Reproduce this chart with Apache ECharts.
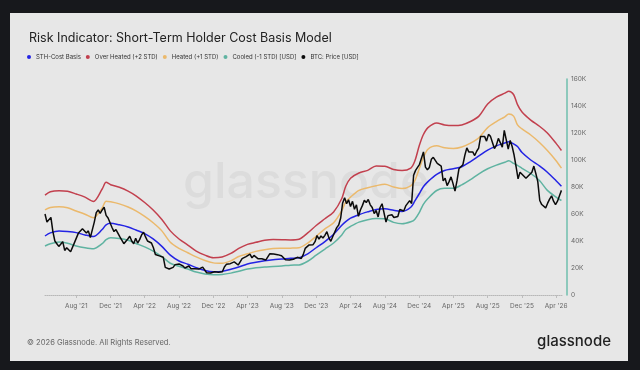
<!DOCTYPE html>
<html><head><meta charset="utf-8">
<script src="https://cdn.jsdelivr.net/npm/echarts@6/dist/echarts.min.js"></script>
<style>
html,body{margin:0;padding:0;background:#17181c;}
#card{position:absolute;left:10px;top:13px;width:618px;height:348px;background:#e7e7e7;}
#c{position:absolute;left:0;top:0;width:640px;height:370px;}
</style>
</head><body><div id="card"></div><div id="c"></div>
<script>
// ---- data (values in thousands of USD) ----
const bandDates = ['2021-04-12','2021-05-01','2021-06-01','2021-07-01','2021-08-01','2021-09-01','2021-10-01','2021-11-01','2021-11-15','2021-12-01',
'2022-01-01','2022-02-01','2022-03-01','2022-04-01','2022-05-01','2022-06-01','2022-07-01','2022-08-01','2022-09-01','2022-10-01','2022-11-01','2022-12-01',
'2023-01-01','2023-02-01','2023-03-01','2023-04-01','2023-05-01','2023-06-01','2023-07-01','2023-08-01','2023-09-01','2023-10-01','2023-11-01','2023-12-01',
'2024-01-01','2024-02-01','2024-03-01','2024-03-15','2024-04-01','2024-05-01','2024-06-01','2024-07-01','2024-08-01','2024-09-01','2024-10-01','2024-11-01','2024-11-15','2024-12-01','2024-12-15',
'2025-01-01','2025-02-01','2025-03-01','2025-04-01','2025-05-01','2025-06-01','2025-07-01','2025-08-01','2025-09-01','2025-10-01','2025-10-15','2025-11-01','2025-11-15','2025-12-01',
'2026-01-01','2026-02-01','2026-03-01','2026-04-01','2026-04-20'];
const sthCost = [43.7,46,47.4,47,46.2,44.5,43.3,48.5,52,53.1,
52,50.4,48.1,45.5,41.5,36,29.5,25.2,22.8,20.3,18.2,17.3,
17.5,19,20.7,22.9,24.2,25.3,26.1,26.6,27.2,27.6,30.5,35,
39.6,45,51.6,54.3,56.9,59.5,61.6,63.4,63.8,62.8,61.9,65,69.5,75,80,
84,89.4,92.2,93.5,95,98.8,103,107.3,110.5,112.6,113.6,112,110,105.5,
100,95.6,90.9,84.6,80.5];
const overHeated = [74,76.5,77.3,76.8,74.8,72.5,69.3,78.5,83.5,81.7,
79.8,77,73.5,68.5,63,56,47.5,41.5,37,32.5,29.5,27.6,
28.2,30.8,34.5,37.5,39,40.5,41.1,41,40.8,41.3,46,51.5,
56.5,61.5,71.5,80.5,86.5,90.4,92.3,95.5,95.3,93,92.2,94,99,110.5,118.5,
124,127.5,126,125.5,126,128.5,132.5,141.5,146.5,149.5,151,148.5,141,135.5,
129.5,125,120,112.3,107];
const heated = [63,64.8,65.3,64.6,62.2,59.8,57.2,64.5,69.5,69,
67.5,65.2,62.3,58.2,53.5,47.5,39,34.5,31.3,28.2,25.5,23.8,
23.5,25.3,28.5,30.5,32.3,33.6,34.4,34.6,34.7,35,38.5,43.5,
49,53.5,62.5,69,72.5,77.5,79.5,81,82,80,78.8,80.8,84.5,93.5,101.5,
108,110.5,109,108.5,109.6,112.5,116.5,124,128.5,132,134,132.5,126,123,
118.5,113,107,99.5,94];
const cooled = [36.3,38,39.2,38.3,36.3,35,34.3,38,41,42.4,
41.8,40.5,38.2,35.6,32.5,28.5,23.5,21.3,19.2,17,15.6,15,
15.2,16.2,17.6,19.2,20.2,20.8,21.1,21.5,22.1,22.3,25,29.5,
34,38.5,44.5,48.5,50.8,54,55.8,56.6,56.4,53.8,52.8,54.3,56,61,67,
71.5,77.4,79,79,81.6,85.5,89.8,93.5,96.2,98.3,99.5,97.5,96,93.8,
90,84.8,77.5,72.5,70];
// BTC weekly price, first week starting 2021-04-12
const priceStart = '2021-04-12';
const btcPrice = [
60,54,55,57.5,47,40,38,36,36.5,39.5,33,35,34,32,31,39,39.5,46,46.5,49,50,46,47.5,42.5,43,54,61,63,60.5,63,65,59,57,57,50,47,48.5,48,
43,42.5,38,37,41.5,43.5,40,38,42,38.5,41,44.5,46.5,43,40,41,38.5,35,30,29.5,29,30,28,20.5,21,19.3,20.5,20.5,22.5,23.5,23,24.3,21.5,20,19.8,21.5,19.5,19,19.5,19.5,19.2,19.4,20.7,21,16.5,16.5,16.3,17,17.2,16.8,16.8,16.6,
17.2,20.8,22.7,23,23.2,21.8,24.5,23.2,22.2,22,26.9,28,28.4,28,30.3,27.5,29.3,28.8,26.9,26.8,26.9,27.2,25.9,26.3,30.5,30.5,30.3,30.3,29.9,29.2,29.1,29.3,26.1,26,25.9,25.8,26.5,26.3,27.9,27.9,27.1,29.9,34.5,35,37.1,36.5,37.3,39.5,44,41.4,43.7,42.2,
44.2,46.9,42.5,39.8,43.3,42.7,49.9,51.8,57,68.2,72.1,67.6,70.5,65.6,69.4,63.5,66.8,58.3,63,66.2,70.1,68.5,70.8,66.8,64.8,60.3,62.6,57.8,64.8,67.6,66.8,54,58.8,59,59.4,57.4,56.5,58.2,63.3,63.3,62.2,66,67.4,69.9,67.8,88.7,92.3,93,96.8,97.4,106,94.7,92.8,
94.5,100.5,102,101.5,97.5,97.5,95.5,84.5,86.5,81,84,87.5,82.5,77,84.5,93.5,94.5,96.5,103.5,109,106,105.5,106,103.3,106.5,108.8,117.5,118,117.5,114,119,117.5,113,108.5,111,116,115.5,109.5,122,123,108,114.5,110,103.5,95,86,91,89.5,90,86.5,88,88.5,
91,95.5,90,84,70,67,66,64.5,68,71,73.5,69.5,67,69.5,73.5,77.5];
const tickDates = ['2021-08-01','2021-12-01','2022-04-01','2022-08-01','2022-12-01','2023-04-01','2023-08-01','2023-12-01','2024-04-01','2024-08-01','2024-12-01','2025-04-01','2025-08-01','2025-12-01','2026-04-01'];
const tickLabels = ["Aug '21","Dec '21","Apr '22","Aug '22","Dec '22","Apr '23","Aug '23","Dec '23","Apr '24","Aug '24","Dec '24","Apr '25","Aug '25","Dec '25","Apr '26"];
const seriesNames = ['STH-Cost Basis','Over Heated (+2 STD)','Heated (+1 STD)','Cooled (-1 STD) [USD]','BTC: Price [USD]'];

// ---- build ----
const ts = d => { const p = d.split('-').map(Number); return Date.UTC(p[0], p[1]-1, p[2]); };
const band = arr => bandDates.map((d,i) => [ts(d), arr[i]*1000]);
const t0 = ts(priceStart);
const btc = btcPrice.map((v,i) => [t0 + i*7*86400000, v*1000]);
const tickTs = tickDates.map(ts);
const colors = ['#2424e4','#c2404e','#ebb96c','#5fb3a1','#0b0b0b'];
const FONT = 'Inter, Roboto, sans-serif';

const chart = echarts.init(document.getElementById('c'), null, {renderer:'canvas'});
const lineSeries = (name, data, color, z, width) => ({
  name, type:'line', data, showSymbol:false, symbol:'circle', smooth: z<5 ? 0.3 : false,
  lineStyle:{color, width}, itemStyle:{color}, z, animation:false
});
chart.setOption({
  backgroundColor:'transparent',
  animation:false,
  textStyle:{fontFamily:FONT},
  title:{text:'Risk Indicator: Short-Term Holder Cost Basis Model', left:24, top:27,
    textStyle:{fontSize:12.5, fontWeight:'normal', color:'#222', fontFamily:FONT}},
  legend:{left:22, top:49, icon:'circle', itemWidth:4, itemHeight:4, itemGap:5,
    textStyle:{fontSize:6, color:'#333', fontFamily:FONT}, data:seriesNames},
  grid:{left:45, right:78, top:79, bottom:75, outerBoundsMode:'none'},
  xAxis:{type:'value', min:ts('2021-04-12'), max:ts('2026-04-22'),
    axisLine:{show:true, lineStyle:{color:'#b8b8b8', type:'dotted', width:1}},
    axisTick:{show:true, customValues:tickTs, length:3, lineStyle:{color:'#bdbdbd'}},
    axisLabel:{customValues:tickTs, fontSize:6.5, color:'#666', margin:8, fontFamily:FONT,
      formatter:v => { let bi=0,bd=Infinity; tickTs.forEach((t,i)=>{const d=Math.abs(t-v); if(d<bd){bd=d;bi=i;}}); return tickLabels[bi]; }},
    splitLine:{show:false}},
  yAxis:{type:'value', position:'right', offset:5, min:0, max:160000, interval:20000,
    axisLine:{show:true, lineStyle:{color:'#6fbfae', width:1.5}},
    axisTick:{show:false},
    axisLabel:{fontSize:6.5, color:'#666', margin:4, fontFamily:FONT,
      formatter:v => v===0 ? '0' : (v/1000)+'K'},
    splitLine:{show:false}},
  graphic:[
    {type:'text', left:183, top:158, z:0, silent:true,
      style:{text:'glassnode', fontSize:50, fontFamily:FONT, fontWeight:500, fill:'#dcdcdc'}},
    {type:'text', left:27, top:339, style:{text:'© 2026 Glassnode. All Rights Reserved.', fontSize:7.6, fontFamily:FONT, fill:'#666'}},
    {type:'text', right:29, top:334, style:{text:'glassnode', fontSize:15, fontFamily:FONT, fontWeight:500, fill:'#222'}}
  ],
  series:[
    lineSeries(seriesNames[0], band(sthCost), colors[0], 4, 1.5),
    lineSeries(seriesNames[1], band(overHeated), colors[1], 3, 1.5),
    lineSeries(seriesNames[2], band(heated), colors[2], 3, 1.5),
    lineSeries(seriesNames[3], band(cooled), colors[3], 3, 1.5),
    lineSeries(seriesNames[4], btc, colors[4], 5, 1.5)
  ]
});
</script>
</body></html>
